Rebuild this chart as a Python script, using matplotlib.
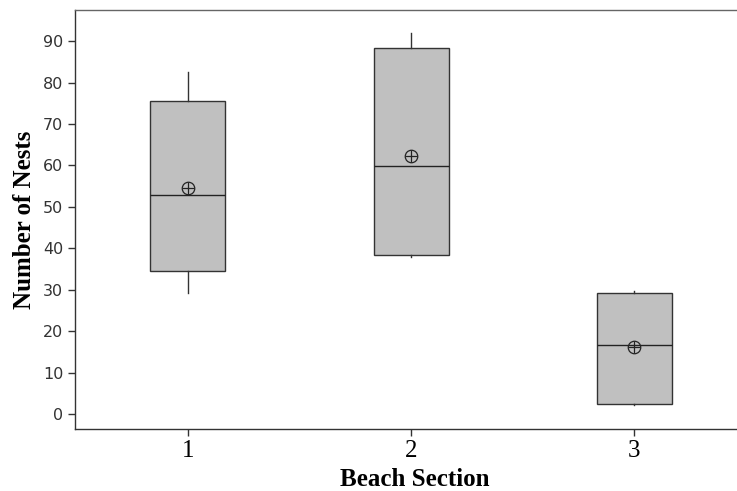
import numpy as np
import matplotlib
matplotlib.use("Agg")
from matplotlib import pyplot as plt

# beach sections and box summary values (number of nests)
sections = [1, 2, 3]
whisker_low = [29.2, 37.9, 2.2]
q1 = [34.5, 38.4, 2.4]
medians = [52.9, 59.8, 16.6]
q3 = [75.5, 88.3, 29.2]
whisker_high = [82.5, 91.9, 29.6]
means = [54.5, 62.3, 16.2]

stats = []
for i in range(len(sections)):
    stats.append({
        "whislo": whisker_low[i], "q1": q1[i], "med": medians[i],
        "q3": q3[i], "whishi": whisker_high[i], "mean": means[i],
        "fliers": [], "label": str(sections[i])
    })

fig = plt.figure(figsize=(7.37, 4.91), dpi=100)
ax = fig.add_axes([0.1018, 0.1263, 0.8982, 0.8533])

edge = "#333333"
ax.bxp(stats, positions=sections, widths=0.336, patch_artist=True,
       showcaps=False, showmeans=False,
       boxprops=dict(facecolor="#c0c0c0", edgecolor=edge, linewidth=1.0),
       medianprops=dict(color="#222222", linewidth=1.0),
       whiskerprops=dict(color="#333333", linewidth=1.0))

# mean markers: circle with a cross
ax.plot(sections, means, "o", ms=9, mfc="none", mec="#222222", mew=0.9, zorder=5)
ax.plot(sections, means, "+", ms=9, mec="#222222", mew=0.9, zorder=5)

ax.set_xlim(0.494, 3.46)
ax.set_ylim(-3.6, 97.5)
ax.set_yticks(np.arange(0, 100, 10))
ax.set_xticks(sections)
ax.set_xticklabels([str(s) for s in sections], fontfamily="Liberation Serif", fontsize=18)
for lab in ax.get_yticklabels():
    lab.set_fontfamily("DejaVu Sans")
    lab.set_fontsize(11.5)
    lab.set_color("#333333")
ax.tick_params(axis="both", direction="out", length=5, width=1, color=edge)
ax.tick_params(axis="x", pad=3)

for s in ax.spines.values():
    s.set_color(edge)
    s.set_linewidth(1.0)
ax.spines["right"].set_visible(False)
ax.spines["top"].set_color("#666666")

ax.set_xlabel("Beach Section", fontfamily="Liberation Serif", fontweight="bold", fontsize=18)
ax.xaxis.set_label_coords(0.513, -0.093)
ax.set_ylabel("Number of Nests", fontfamily="Liberation Serif", fontweight="bold", fontsize=18, labelpad=5)

fig.savefig("out.png", dpi=100)
